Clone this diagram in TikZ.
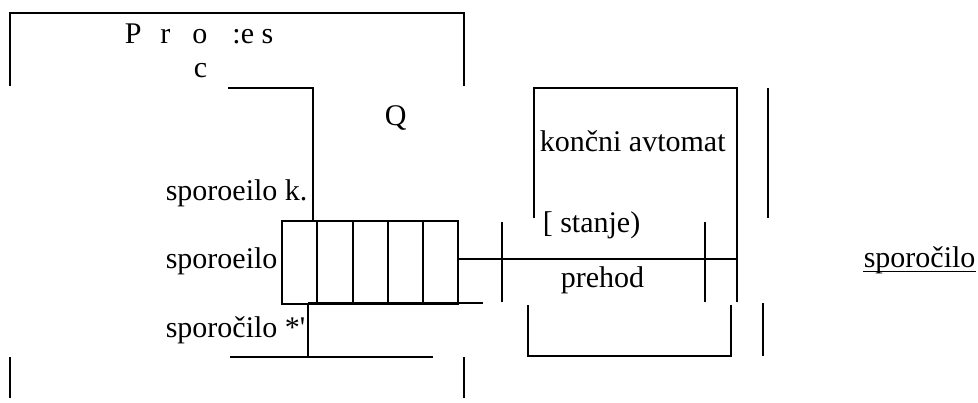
\documentclass[tikz,border=0pt]{standalone}
\usepackage{fontspec}
\setmainfont{Liberation Serif}
\usetikzlibrary{positioning}

\begin{document}
\begin{tikzpicture}[x=1pt,y=-1pt,line width=1.6pt,
  lab/.style={inner sep=0pt,anchor=base west,font=\fontsize{30}{36}\selectfont},
  cell/.style={draw,inner sep=0pt,outer sep=0pt,minimum width=176pt,minimum height=83pt}]
\useasboundingbox (0,0) rectangle (978,402);
% process frame
\draw (10,86) -- (10,13) -- (464,13) -- (464,86);
\draw (10,357) -- (10,398);
\draw (464,357) -- (464,398);
\node[lab] (title) at (124,43) {P\hspace{19pt}r\hspace{22pt}o\hspace{25pt}:e s};
\node[lab] (titlec) at (193,77) {c};
\node[lab] (q) at (384,125) {Q};
% queue
\node[cell] (queue) at (370,262.5) {};
\foreach \x in {317,353,388,423}
  \draw (\x,221) -- (\x,304);
\coordinate (inlet) at (228,88);
\draw (inlet) -- (313,88) -- (queue.north west -| 313,0);
\draw (308,303) -- (483,303);
\draw (458,259) -- (737,259);
\draw (308,303) -- (308,357);
\draw (230,357) -- (433,357);
\node[lab] (msgk) at (165,200) {sporoeilo k.};
\node[lab] (msg) at (165,268) {sporoeilo};
\node[lab] (msgout) at (165,337) {sporočilo *\textquotesingle};
% automaton
\draw (534,218) -- (534,88) -- (737,88) -- (737,302);
\draw (768,88) -- (768,218);
\draw (502,222) -- (502,302);
\draw (705,222) -- (705,302);
\draw (528,305) -- (528,356) -- (731,356) -- (731,305);
\draw (763,303) -- (763,356);
\node[lab] (fsm) at (539,151) {končni avtomat};
\node[lab] (state) at (542,232) {[ stanje)};
\node[lab] (trans) at (560,287) {prehod};
% output message
\node[lab] (out) at (863,267) {sporočilo};
\draw ([yshift=-4.5pt]out.base west) -- ([yshift=-4.5pt]out.base east);
\end{tikzpicture}
\end{document}
